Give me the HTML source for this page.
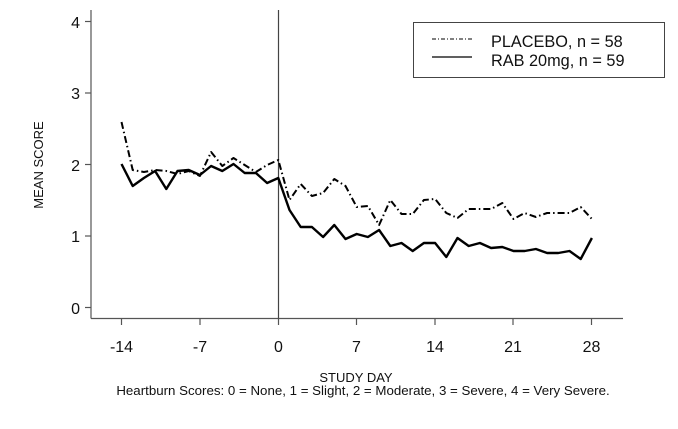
<!DOCTYPE html>
<html><head><meta charset="utf-8"><style>
html,body{margin:0;padding:0;background:#fff;}
svg{display:block;font-family:"Liberation Sans",Arial,sans-serif;}
</style></head><body>
<svg width="678" height="429" viewBox="0 0 678 429" xmlns="http://www.w3.org/2000/svg">
<rect width="678" height="429" fill="#fff"/>
<g stroke="#555" stroke-width="1.2" fill="none">
<line x1="91" y1="10" x2="91" y2="318.5"/>
<line x1="91" y1="318.5" x2="623" y2="318.5"/>
<line x1="85" y1="21.5" x2="91" y2="21.5"/>
<line x1="85" y1="93" x2="91" y2="93"/>
<line x1="85" y1="164.5" x2="91" y2="164.5"/>
<line x1="85" y1="236" x2="91" y2="236"/>
<line x1="85" y1="307.5" x2="91" y2="307.5"/>
<line x1="121.5" y1="318.5" x2="121.5" y2="325"/>
<line x1="200" y1="318.5" x2="200" y2="325"/>
<line x1="278.5" y1="318.5" x2="278.5" y2="325"/>
<line x1="356.5" y1="318.5" x2="356.5" y2="325"/>
<line x1="435" y1="318.5" x2="435" y2="325"/>
<line x1="513" y1="318.5" x2="513" y2="325"/>
<line x1="591.5" y1="318.5" x2="591.5" y2="325"/>
<line x1="278.5" y1="10" x2="278.5" y2="318.5" stroke="#444"/>
</g>
<g font-size="16" fill="#111" text-anchor="end">
<text x="80" y="28">4</text><text x="80" y="99">3</text><text x="80" y="171">2</text><text x="80" y="242">1</text><text x="80" y="314">0</text>
</g>
<g font-size="16" fill="#111" text-anchor="middle">
<text x="121.5" y="352">-14</text><text x="200" y="352">-7</text><text x="278.5" y="352">0</text><text x="356.5" y="352">7</text><text x="435" y="352">14</text><text x="513" y="352">21</text><text x="591.5" y="352">28</text>
</g>
<text x="43" y="165" font-size="13" fill="#111" text-anchor="middle" transform="rotate(-90 43 165)">MEAN SCORE</text>
<text x="356" y="382" font-size="13" fill="#111" text-anchor="middle">STUDY DAY</text>
<text x="363" y="395" font-size="13.3" fill="#111" text-anchor="middle">Heartburn Scores: 0 = None, 1 = Slight, 2 = Moderate, 3 = Severe, 4 = Very Severe.</text>
<polyline fill="none" stroke="#000" stroke-width="2.4" stroke-linejoin="round" points="121.5,164 132.7,186 143.9,178 155.1,171 166.3,189 177.5,171 188.7,170 199.9,175 211.1,166 222.3,171 233.5,164 244.7,173 255.9,173 267.1,183 278.3,178 289.5,210 300.7,227 311.9,227 323.1,237 334.3,225 345.5,239 356.7,234 367.9,237 379.1,230 390.3,246 401.5,243 412.7,251 423.9,243 435.1,243 446.3,257 457.5,238 468.7,246 479.9,243 491.1,248 502.3,247 513.5,251 524.7,251 535.9,249 547.1,253 558.3,253 569.5,251 580.7,259 591.9,238"/>
<polyline fill="none" stroke="#000" stroke-width="2" stroke-dasharray="7,3,1.5,3" stroke-linejoin="round" points="121.5,122 132.7,170 143.9,172 155.1,170 166.3,171 177.5,174 188.7,171 199.9,176 211.1,152 222.3,166 233.5,158 244.7,165 255.9,172 267.1,165 278.3,160 289.5,200 300.7,184 311.9,196 323.1,193 334.3,179 345.5,186 356.7,207 367.9,206 379.1,225 390.3,200 401.5,214 412.7,214 423.9,200 435.1,199 446.3,213 457.5,218 468.7,209 479.9,209 491.1,209 502.3,203 513.5,219 524.7,213 535.9,217 547.1,213 558.3,213 569.5,213 580.7,207 591.9,219"/>
<rect x="413.5" y="22.5" width="251" height="55" fill="#fff" stroke="#444" stroke-width="1"/>
<line x1="432" y1="39" x2="472" y2="39" stroke="#000" stroke-width="1" stroke-dasharray="4,2,1,2"/>
<line x1="432" y1="57" x2="472" y2="57" stroke="#000" stroke-width="1.2"/>
<text x="491" y="47" font-size="16.3" fill="#111">PLACEBO, n = 58</text>
<text x="491" y="66" font-size="16.3" fill="#111">RAB 20mg, n = 59</text>
</svg>
</body></html>
